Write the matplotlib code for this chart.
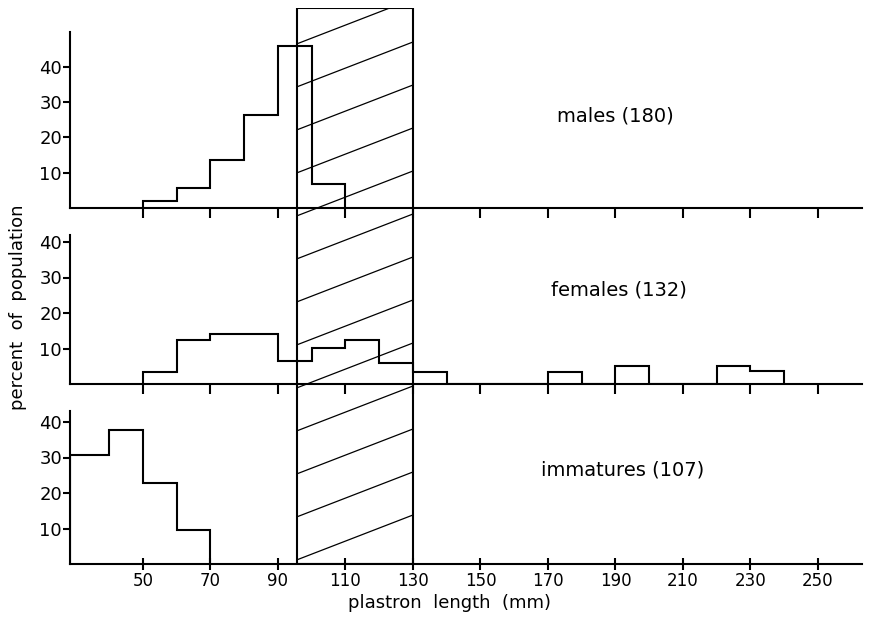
import numpy as np
import matplotlib.pyplot as plt
from matplotlib.patches import Rectangle

plt.rcParams['font.family'] = ['DejaVu Sans']

# size-class frequencies (percent of population), 10 mm bins
male_edges = [50, 60, 70, 80, 90, 100, 110]
male_pct = [2.0, 5.7, 13.7, 26.3, 46.0, 6.9]

female_edges = list(range(50, 250, 10))
female_pct = [3.4, 12.4, 14.2, 14.2, 6.4, 10.2, 12.5, 5.9, 3.5, 0, 0, 0,
              3.5, 0, 5.1, 0, 0, 5.1, 3.7]

# lowest immature class is open-ended (starts at the axis)
immature_edges = [28.5, 40, 50, 60, 70]
immature_pct = [30.8, 37.7, 22.7, 9.6]

panel_labels = ['males (180)', 'females (132)', 'immatures (107)']
label_x = [190, 191, 192]
label_y = [26.0, 26.5, 26.5]
y_tops = [50, 42, 43]

# shaded size range (mm)
hatch_range = (95.5, 130)

xticks = list(range(50, 251, 20))
yticks = [10, 20, 30, 40]
xlim = (28.5, 263)

fig = plt.figure(figsize=(8.7, 6.2), dpi=100)
W, H = 870.0, 620.0
left = 70.4 / W
width = (xlim[1] - xlim[0]) * 3.375 / W

# panel baselines / heights in pixels
baselines = [208, 384, 564]
px_per_unit = [3.53, 3.55, 3.55]

lw = 1.5
axes = []
for i in range(3):
    h = y_tops[i] * px_per_unit[i]
    ax = fig.add_axes([left, (H - baselines[i]) / H, width, h / H])
    ax.set_xlim(*xlim)
    ax.set_ylim(0, y_tops[i])
    ax.set_facecolor('none')
    for s in ['top', 'right']:
        ax.spines[s].set_visible(False)
    for s in ['left', 'bottom']:
        ax.spines[s].set_linewidth(lw)
    ax.set_xticks(xticks)
    ax.set_yticks(yticks)
    ax.tick_params(axis='y', direction='out', length=5, width=lw, labelsize=13, pad=1)
    if i < 2:
        ax.tick_params(axis='x', direction='out', length=7, width=lw, labelbottom=False)
    else:
        ax.tick_params(axis='x', direction='inout', length=8, width=lw, labelsize=12, pad=2)
    ax.text(label_x[i], label_y[i], panel_labels[i], ha='center', va='center', fontsize=14)
    axes.append(ax)

axes[0].stairs(male_pct, male_edges, baseline=0, color='black', linewidth=lw)
axes[1].stairs(female_pct, female_edges, baseline=0, color='black', linewidth=lw)
axes[2].stairs(immature_pct, immature_edges, baseline=0, color='black', linewidth=lw)

# overlay for the hatched band, y in pixels above the lowest baseline
top_px = 556
axh = fig.add_axes([left, (H - baselines[2]) / H, width, top_px / H], zorder=5)
axh.set_xlim(*xlim)
axh.set_ylim(0, top_px)
axh.axis('off')
x0, x1 = hatch_range
rect = Rectangle((x0, 0), x1 - x0, top_px, fill=False, edgecolor='black', linewidth=lw)
axh.add_patch(rect)
clip = Rectangle((x0, 0), x1 - x0, top_px, transform=axh.transData)
for k in range(13):
    yl = 4 + 43 * k
    ln, = axh.plot([x0, x1], [yl, yl + 45], color='black', linewidth=0.9)
    ln.set_clip_path(clip)

fig.text(18 / W, 1 - 307 / H, 'percent  of  population', rotation=90,
         ha='center', va='center', fontsize=13)
fig.text(450 / W, 1 - 603 / H, 'plastron  length  (mm)', ha='center', va='center', fontsize=13)

fig.savefig('out.png', dpi=100)
